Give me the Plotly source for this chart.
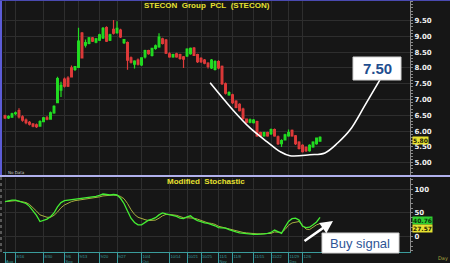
import plotly.graph_objects as go

# ---------------- data ----------------
idx = list(range(91))
opens = [6.48, 6.42, 6.44, 6.55, 6.65, 6.45, 6.35, 6.28, 6.22, 6.20,
         6.16, 6.30, 6.42, 6.38, 6.58, 6.90, 7.30, 7.65, 7.68, 8.00,
         7.95, 8.02, 9.10, 8.72, 8.78, 8.95, 8.82, 8.88, 8.95, 9.28,
         8.88, 9.22, 9.12, 9.20, 8.80, 8.80, 8.32, 8.12, 8.25, 8.10,
         8.35, 8.55, 8.40, 8.62, 8.67, 8.92, 8.88, 8.45, 8.35, 8.45,
         8.42, 8.35, 8.38, 8.45, 8.63, 8.42, 8.30, 8.25, 8.15, 8.00,
         7.95, 8.20, 8.05, 7.50, 7.15, 7.15, 6.95, 6.85, 6.70, 6.38,
         6.28, 6.27, 6.30, 5.95, 5.85, 5.95, 5.92, 6.05, 5.82, 5.60,
         5.72, 5.85, 6.02, 5.85, 5.65, 5.55, 5.48, 5.38, 5.50, 5.60,
         5.68]
highs = [6.52, 6.50, 6.58, 6.62, 6.72, 6.50, 6.40, 6.32, 6.26, 6.24,
         6.34, 6.45, 6.48, 6.62, 6.82, 7.72, 7.56, 7.70, 7.74, 8.08,
         8.06, 9.27, 9.14, 8.90, 8.98, 8.98, 8.95, 9.08, 9.30, 9.32,
         9.08, 9.52, 9.48, 9.24, 8.92, 8.84, 8.36, 8.24, 8.30, 8.34,
         8.58, 8.58, 8.64, 8.74, 9.10, 8.96, 8.92, 8.50, 8.45, 8.48,
         8.45, 8.38, 8.62, 8.65, 8.66, 8.45, 8.34, 8.28, 8.18, 8.28,
         8.24, 8.24, 8.08, 7.54, 7.26, 7.18, 6.98, 6.88, 6.74, 6.40,
         6.40, 6.38, 6.33, 5.98, 5.98, 5.98, 6.08, 6.08, 5.86, 5.74,
         5.92, 6.05, 6.05, 5.88, 5.68, 5.58, 5.52, 5.58, 5.68, 5.80,
         5.84]
lows = [6.38, 6.38, 6.42, 6.50, 6.40, 6.30, 6.22, 6.18, 6.12, 6.10,
        6.14, 6.28, 6.34, 6.36, 6.55, 6.88, 7.08, 7.38, 7.40, 7.70,
        7.90, 8.00, 8.30, 8.65, 8.75, 8.82, 8.78, 8.85, 8.92, 8.82,
        8.85, 9.06, 9.08, 8.95, 8.76, 7.94, 8.14, 7.98, 8.08, 8.06,
        8.30, 8.42, 8.36, 8.58, 8.64, 8.74, 8.44, 8.32, 8.32, 8.32,
        8.26, 8.00, 8.35, 8.42, 8.38, 8.16, 8.16, 8.12, 7.98, 7.97,
        7.92, 7.96, 7.46, 7.16, 7.12, 6.86, 6.72, 6.62, 6.36, 6.24,
        6.25, 6.24, 5.82, 5.82, 5.82, 5.82, 5.88, 5.82, 5.56, 5.50,
        5.70, 5.82, 5.82, 5.56, 5.42, 5.32, 5.34, 5.35, 5.47, 5.57,
        5.66]
closes = [6.42, 6.46, 6.55, 6.58, 6.45, 6.35, 6.27, 6.22, 6.16, 6.14,
          6.30, 6.42, 6.38, 6.58, 6.78, 7.66, 7.45, 7.42, 7.42, 7.72,
          8.04, 8.85, 8.32, 8.80, 8.95, 8.85, 8.92, 9.05, 9.25, 8.85,
          9.05, 9.10, 9.25, 8.98, 8.90, 8.25, 8.18, 8.22, 8.12, 8.32,
          8.55, 8.45, 8.62, 8.70, 8.98, 8.78, 8.47, 8.35, 8.42, 8.35,
          8.30, 8.28, 8.60, 8.62, 8.40, 8.20, 8.20, 8.15, 8.05, 8.25,
          8.20, 8.00, 7.50, 7.20, 7.22, 6.90, 6.75, 6.65, 6.40, 6.28,
          6.36, 6.35, 5.85, 5.85, 5.95, 5.85, 6.05, 5.85, 5.60, 5.70,
          5.88, 5.95, 5.85, 5.60, 5.45, 5.35, 5.38, 5.55, 5.65, 5.78,
          5.80]
stoch_k = [74, 76, 77, 77, 75, 72, 70, 64, 55, 45,
           32, 34, 37, 42, 50, 63, 72, 76, 77, 78,
           79, 80, 81, 82, 83, 83, 85, 87, 90, 89,
           88, 89, 88, 81, 70, 54, 39, 30, 25, 25,
           30, 35, 37, 40, 46, 50, 48, 46, 44, 43,
           39, 38, 42, 44, 38, 34, 32, 29, 28, 26,
           23, 19, 18, 18, 15, 12, 10, 8, 7, 6,
           6, 5, 5, 5, 6, 7, 9, 14, 10, 7,
           20, 32, 38, 39, 35, 22, 19, 20, 25, 31,
           40.76]
stoch_d = [74, 75, 76, 76, 75, 73, 72, 68, 62, 54,
           46, 43, 41, 41, 45, 52, 61, 67, 71, 74,
           76, 77, 79, 80, 81, 82, 83, 84, 86, 87,
           88, 88, 87, 85, 80, 70, 57, 47, 41, 38,
           36, 34, 34, 35, 39, 44, 47, 47, 46, 45,
           42, 40, 40, 40, 39, 37, 34, 31, 29, 28,
           26, 22, 20, 19, 17, 14, 12, 10, 9, 8,
           7, 7, 6, 6, 6, 7, 7, 10, 10, 9,
           15, 24, 29, 31, 32, 24, 16, 15, 20, 25,
           27.57]
price_ticks = [5.0, 5.5, 6.0, 6.5, 7.0, 7.5, 8.0, 8.5, 9.0, 9.5]
price_ticktext = ["5.00", "5.50", "6.00", "6.50", "7.00", "7.50",
                  "8.00", "8.50", "9.00", "9.50"]
stoch_ticks = [0, 50, 100]
stoch_ticktext = ["0", "50", "100"]
date_tick_idx = [0, 3, 11, 17, 21, 27, 32, 39, 47, 52, 56, 61, 65, 71, 76, 81, 85]
date_tick_text = [" <br>Aug", "8/16", "8/30", "9/6<br>Sep", "9/13", "9/20",
                  "9/27", "10/4<br>Oct", "10/14", "10/21", "10/25",
                  "11/1<br>Nov", "11/8", "11/15", "11/22", "11/29<br>Dec", "12/6"]
last_price = 5.80
last_k = 40.76
last_d = 27.57
# hand-drawn "cup" annotation (in chart coordinates)
curve_x = [58.6, 65.1, 70.0, 74.9, 78.6, 81.4, 87.1, 91.4, 95.1, 98.6, 102.9, 107.1]
curve_y = [7.53, 6.67, 6.10, 5.66, 5.35, 5.22, 5.25, 5.31, 5.63, 6.04, 6.83, 7.62]

# ---------------- styling ----------------
BG = "#161616"
GRID = "#2e2e2e"
UP = "#22dd22"
DOWN = "#e03a3a"
TEAL = "#3a9c9c"
YEL = "#e6e030"
AXC = "#8a8a8a"
XR = [-0.57, 115.7]
PRICE_DOM = [0.3068, 1.0]
STOCH_DOM = [0.0, 0.2948]

fig = go.Figure()
fig.add_trace(go.Candlestick(
    x=idx, open=opens, high=highs, low=lows, close=closes,
    xaxis="x", yaxis="y", whiskerwidth=0, showlegend=False,
    increasing=dict(line=dict(color=UP, width=1.2), fillcolor=UP),
    decreasing=dict(line=dict(color=DOWN, width=1.2), fillcolor=DOWN),
))
fig.add_trace(go.Scatter(
    x=curve_x, y=curve_y, mode="lines", xaxis="x", yaxis="y",
    line=dict(color="white", width=1.6, shape="spline", smoothing=1.0),
    showlegend=False, hoverinfo="skip"))
fig.add_trace(go.Scatter(
    x=idx, y=stoch_d, mode="lines", xaxis="x2", yaxis="y2",
    line=dict(color="#a8b040", width=1), showlegend=False))
fig.add_trace(go.Scatter(
    x=idx, y=stoch_k, mode="lines", xaxis="x2", yaxis="y2",
    line=dict(color="#44ee33", width=1.3), showlegend=False))

tickfont = dict(family="DejaVu Sans", size=7, color="#f0f0f0", weight="bold")

fig.update_layout(
    width=450, height=263,
    margin=dict(l=3, r=40, t=1, b=11, autoexpand=False),
    paper_bgcolor=BG, plot_bgcolor=BG,
    showlegend=False,
    xaxis=dict(domain=[0, 1], anchor="y", range=XR, tickmode="array",
               tickvals=date_tick_idx, showticklabels=False, ticks="",
               showgrid=True, gridcolor=GRID, gridwidth=1, zeroline=False,
               rangeslider=dict(visible=False), fixedrange=True, automargin=False),
    yaxis=dict(domain=PRICE_DOM, anchor="x", range=[4.61, 10.12], side="right",
               tickmode="array", tickvals=price_ticks, ticktext=price_ticktext,
               showgrid=True, gridcolor=GRID, zeroline=False,
               showline=True, linecolor=AXC, linewidth=1,
               ticks="outside", ticklen=2, tickcolor=AXC, automargin=False,
               minor=dict(dtick=0.1, ticks="outside", ticklen=2, tickcolor=AXC, showgrid=False),
               tickfont=tickfont),
    xaxis2=dict(domain=[0, 1], anchor="y2", range=XR, tickmode="array",
                tickvals=date_tick_idx, ticktext=date_tick_text,
                ticklabelposition="outside right", tickangle=0, automargin=False,
                ticks="outside", ticklen=11, tickcolor=TEAL,
                showline=True, linecolor=TEAL, linewidth=1,
                tickfont=dict(family="Liberation Sans", size=4, color=TEAL),
                showgrid=True, gridcolor=GRID, zeroline=False),
    yaxis2=dict(domain=STOCH_DOM, anchor="x2", range=[-32.3, 123.8], side="right",
                tickmode="array", tickvals=stoch_ticks, ticktext=stoch_ticktext,
                showgrid=True, gridcolor=GRID, zeroline=False,
                showline=True, linecolor=AXC, linewidth=1,
                ticks="outside", ticklen=2, tickcolor=AXC, automargin=False,
                minor=dict(dtick=10, ticks="outside", ticklen=2, tickcolor=AXC, showgrid=False),
                tickfont=tickfont),
)

def px_x(p):
    return (p - 3) / 407.0

def px_y(p):
    return (252 - p) / 251.0

shapes = [
    # panel separator
    dict(type="line", xref="paper", yref="paper", x0=px_x(0), x1=px_x(450),
         y0=px_y(176), y1=px_y(176), line=dict(color="#b0b0ec", width=2)),
    # left blue border (price panel)
    dict(type="line", xref="paper", yref="paper", x0=px_x(1), x1=px_x(1),
         y0=px_y(0), y1=px_y(175), line=dict(color="#5c5cd6", width=2)),
    # left gray border (stochastic panel)
    dict(type="line", xref="paper", yref="paper", x0=px_x(1), x1=px_x(1),
         y0=px_y(177), y1=px_y(252), line=dict(color="#9a9a9a", width=1, dash="dot")),
    # top border
    dict(type="line", xref="paper", yref="paper", x0=px_x(0), x1=px_x(450),
         y0=px_y(0.5), y1=px_y(0.5), line=dict(color="#4a4ab0", width=1)),
    # "7.50" box
    dict(type="rect", xref="paper", yref="paper", x0=px_x(353), x1=px_x(401),
         y0=px_y(80), y1=px_y(57), fillcolor="white", line=dict(color="#d0d0d0", width=1)),
    # "Buy signal" box
    dict(type="rect", xref="paper", yref="paper", x0=px_x(322), x1=px_x(399),
         y0=px_y(253), y1=px_y(233), fillcolor="white", line=dict(color="#d0d0d0", width=1)),
]
fig.update_layout(shapes=shapes)

ann = [
    dict(text="STECON\u00a0\u00a0Group\u00a0\u00a0PCL\u00a0\u00a0(STECON)", xref="paper", yref="paper",
         x=px_x(207), y=px_y(6), xanchor="center", yanchor="middle", showarrow=False,
         font=dict(family="Liberation Sans", size=8, color=YEL, weight="bold")),
    dict(text="Modified\u00a0\u00a0Stochastic", xref="paper", yref="paper",
         x=px_x(206), y=px_y(181), xanchor="center", yanchor="middle", showarrow=False,
         font=dict(family="Liberation Sans", size=8, color=YEL, weight="bold")),
    dict(text="No Data", xref="paper", yref="paper", x=px_x(6), y=px_y(172),
         xanchor="left", yanchor="middle", showarrow=False,
         font=dict(family="DejaVu Sans", size=4, color="#c8c8c8")),
    dict(text="Day", xref="paper", yref="paper", x=px_x(436), y=px_y(258),
         xanchor="left", yanchor="middle", showarrow=False,
         font=dict(family="DejaVu Sans", size=5, color="#a8a840")),
    dict(text="7.50", xref="paper", yref="paper", x=px_x(377), y=px_y(68.5),
         xanchor="center", yanchor="middle", showarrow=False,
         font=dict(family="Liberation Sans", size=15, color="#1f4e8f", weight="bold")),
    dict(text="Buy signal", xref="paper", yref="paper", x=px_x(360), y=px_y(243),
         xanchor="center", yanchor="middle", showarrow=False,
         font=dict(family="Liberation Sans", size=13, color="#2f5597")),
    # white arrow
    dict(text="", xref="paper", yref="paper", x=px_x(333), y=px_y(221),
         ax=-30, ay=21, showarrow=True, arrowhead=2, arrowsize=1,
         arrowwidth=2.5, arrowcolor="white"),
    # last value tags
    dict(text=f"{last_price:.2f}", xref="paper", yref="y", x=px_x(412), y=last_price,
         xanchor="left", yanchor="middle", showarrow=False, bgcolor=YEL, borderpad=0,
         yshift=-3, font=dict(family="DejaVu Sans", size=6, color="#202000", weight="bold")),
    dict(text=f"{last_k:.2f}", xref="paper", yref="y2", x=px_x(412), y=last_k,
         xanchor="left", yanchor="middle", showarrow=False, bgcolor="#30d030", borderpad=0,
         yshift=-3, font=dict(family="DejaVu Sans", size=6, color="#0a300a", weight="bold")),
    dict(text=f"{last_d:.2f}", xref="paper", yref="y2", x=px_x(412), y=last_d,
         xanchor="left", yanchor="middle", showarrow=False, bgcolor=YEL, borderpad=0,
         yshift=-5, font=dict(family="DejaVu Sans", size=6, color="#202000", weight="bold")),
]
fig.update_layout(annotations=ann)

fig.write_html("out.html")
